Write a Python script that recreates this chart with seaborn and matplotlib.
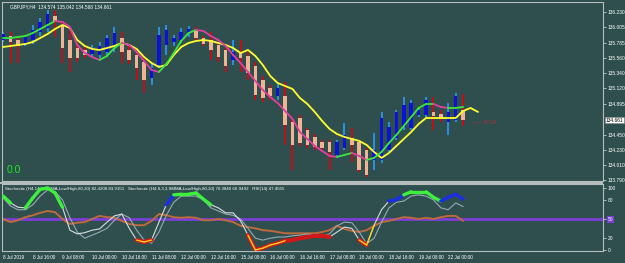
import numpy as np
import pandas as pd
import matplotlib
matplotlib.use("Agg")
import matplotlib.pyplot as plt
import matplotlib.transforms as mtrans
from matplotlib.patches import Rectangle
import seaborn as sns

# ---------------- data ----------------
symbol_header = "GBPJPY,H4  134.574 135.042 134.568 134.661"
osc_header = ("Stochastic (H4,14,3,3,EMA,Low/High,80,20) 82.4208 83.9151   "
              "Stochastic (H4,8,3,3,SMMA,Low/High,80,20) 70.3840 66.9492   RSI(14) 47.4555")
time_labels = ["8 Jul 2019", "8 Jul 16:00", "9 Jul 08:00", "10 Jul 00:00", "10 Jul 16:00",
               "11 Jul 08:00", "12 Jul 00:00", "12 Jul 16:00", "15 Jul 08:00", "16 Jul 00:00",
               "16 Jul 16:00", "17 Jul 08:00", "18 Jul 00:00", "18 Jul 16:00", "19 Jul 08:00",
               "22 Jul 00:00"]
price_ticks = [136.230, 136.005, 135.785, 135.560, 135.340, 135.120, 134.895,
               134.450, 134.230, 134.010, 133.790]
osc_ticks = [100, 80, 50, 20, 0]
last_price = 134.661
profit_text = "0.0"
timer_text = "\u2014\u2014 47:18"

opens = [135.823, 135.881, 135.823, 135.765, 135.823, 135.940, 135.998, 136.172, 136.041, 135.823,
         135.707, 135.678, 135.620, 135.605, 135.649, 135.707, 135.852, 135.678, 135.605, 135.504,
         135.271, 135.460, 135.751, 135.794, 135.823, 135.911, 135.969, 135.852, 135.823, 135.751,
         135.678, 135.533, 135.649, 135.591, 135.446, 135.242, 135.126, 135.010, 135.010, 134.632,
         134.690, 134.516, 134.415, 134.342, 134.342, 134.153, 134.255, 134.400, 134.342, 134.226,
         134.081, 134.081, 134.226, 134.400, 134.560, 134.545, 134.734, 134.734, 134.778, 134.749,
         134.632, 134.661, 134.807]
highs = [135.940, 135.940, 135.852, 135.896, 136.041, 136.143, 136.259, 136.259, 136.085, 135.969,
         135.794, 135.751, 135.751, 135.794, 135.896, 136.012, 135.940, 135.751, 135.678, 135.605,
         135.489, 136.012, 136.041, 135.896, 135.998, 136.027, 136.012, 135.881, 135.940, 135.794,
         135.707, 135.823, 135.823, 135.649, 135.504, 135.301, 135.170, 135.184, 135.213, 134.690,
         134.734, 134.545, 134.458, 134.371, 134.371, 134.371, 134.618, 134.545, 134.371, 134.255,
         134.473, 134.778, 134.632, 134.807, 134.995, 134.952, 134.836, 134.995, 134.995, 134.807,
         134.908, 135.054, 135.042]
lows = [135.794, 135.489, 135.489, 135.736, 135.765, 135.881, 135.940, 135.867, 135.489, 135.359,
        135.504, 135.562, 135.591, 135.562, 135.591, 135.649, 135.489, 135.475, 135.242, 135.054,
        135.170, 135.417, 135.605, 135.736, 135.780, 135.867, 135.809, 135.736, 135.533, 135.504,
        135.359, 135.460, 135.359, 135.242, 134.952, 134.923, 134.952, 134.952, 134.298, 133.935,
        134.284, 134.255, 134.226, 134.197, 133.935, 134.110, 134.226, 134.052, 133.906, 133.833,
        133.935, 134.037, 134.197, 134.371, 134.516, 134.516, 134.705, 134.690, 134.516, 134.632,
        134.444, 134.632, 134.568]
closes = [135.911, 135.794, 135.736, 135.867, 135.969, 136.085, 136.201, 136.085, 135.707, 135.562,
          135.562, 135.605, 135.707, 135.736, 135.852, 135.925, 135.649, 135.533, 135.417, 135.242,
          135.417, 135.896, 135.969, 135.852, 135.940, 135.983, 135.852, 135.765, 135.678, 135.576,
          135.446, 135.649, 135.562, 135.344, 135.024, 134.981, 135.010, 135.126, 134.589, 134.298,
          134.327, 134.298, 134.269, 134.255, 134.197, 134.342, 134.444, 134.298, 133.935, 133.862,
          134.226, 134.690, 134.560, 134.778, 134.879, 134.908, 134.807, 134.952, 134.720, 134.676,
          134.778, 135.010, 134.661]
slow_ma = [135.722, 135.736, 135.751, 135.765, 135.794, 135.852, 135.911, 135.983, 136.041, 135.998,
           135.823, 135.736, 135.693, 135.678, 135.707, 135.736, 135.780, 135.751, 135.693, 135.576,
           135.489, 135.431, 135.460, 135.605, 135.722, 135.780, 135.809, 135.823, 135.809, 135.780,
           135.751, 135.707, 135.634, 135.678, 135.591, 135.460, 135.301, 135.199, 135.155, 135.112,
           134.981, 134.894, 134.778, 134.647, 134.531, 134.458, 134.415, 134.386, 134.357, 134.298,
           134.197, 134.110, 134.182, 134.284, 134.386, 134.487, 134.603, 134.690, 134.690, 134.690,
           134.690, 134.690, 134.792, 134.836, 134.778]
fast_ma = [135.852, 135.852, 135.867, 135.881, 135.925, 135.983, 136.041, 136.099, 136.085, 136.012,
           135.751, 135.634, 135.576, 135.533, 135.591, 135.707, 135.780, 135.751, 135.649, 135.518,
           135.388, 135.359, 135.475, 135.634, 135.809, 135.925, 135.969, 135.954, 135.881, 135.823,
           135.736, 135.605, 135.489, 135.359, 135.228, 135.097, 134.995, 134.908, 134.792, 134.676,
           134.487, 134.386, 134.284, 134.211, 134.139, 134.124, 134.153, 134.182, 134.139, 134.081,
           134.110, 134.197, 134.327, 134.444, 134.574, 134.705, 134.836, 134.894, 134.894, 134.850,
           134.836, 134.836, 134.850]
stoch_main = [87, 76, 69, 68, 84, 98, 100, 92, 69, 32, 26, 28, 32, 34, 45, 55, 58, 35, 16, 13,
              16, 45, 73, 89, 90, 90, 92, 82, 73, 68, 60, 60, 47, 24, 0, 3, 8, 11, 15, 16,
              19, 21, 23, 23, 21, 29, 37, 35, 16, 8, 40, 65, 79, 81, 89, 94, 94, 94, 85, 79,
              85, 90, 82]
stoch_slow = [84, 71, 65, 65, 73, 87, 97, 94, 81, 52, 29, 19, 24, 29, 35, 48, 58, 52, 32, 16,
              11, 29, 56, 77, 87, 87, 87, 81, 68, 63, 58, 56, 50, 35, 19, 16, 19, 21, 21, 23,
              24, 26, 24, 23, 26, 39, 45, 44, 29, 10, 19, 45, 68, 77, 79, 87, 89, 87, 81, 68,
              65, 76, 70]
rsi = [50, 45, 48, 53, 56, 60, 63, 61, 50, 42, 44, 45, 50, 55, 53, 52, 47, 42, 40, 40,
       47, 58, 56, 53, 52, 53, 52, 48, 48, 50, 48, 45, 39, 37, 35, 32, 31, 29, 27, 27,
       27, 27, 27, 29, 32, 39, 34, 31, 29, 32, 39, 45, 47, 50, 53, 52, 50, 52, 50, 53,
       55, 55, 47]
blue_signal_bars = [22, 52, 53, 59, 60, 61]

# ---------------- style ----------------
BG = "#2f4f4f"
sns.set_style("dark", {"axes.facecolor": BG, "figure.facecolor": BG})
plt.rcParams["font.family"] = ["Liberation Sans", "DejaVu Sans"]
FS = 3.5

fig = plt.figure(figsize=(6.25, 2.63), dpi=100, facecolor=BG)
ax = fig.add_axes([2 / 625, 1 - 181 / 263, 601 / 625, 179 / 263])
ax2 = fig.add_axes([2 / 625, 1 - 251 / 263, 601 / 625, 67 / 263], sharex=ax)
XL = (-0.15, 80.85)

df = pd.DataFrame({"o": opens, "h": highs, "l": lows, "c": closes})
df["x"] = np.arange(len(df))
bull = df["c"] >= df["o"]

# candles
for is_bull, wick_c, body_c in [(True, "#2c8fe6", "#0a14d2"), (False, "#c01018", "#f2b392")]:
    sub = df[bull == is_bull]
    ax.vlines(sub["x"], sub["l"], sub["h"], color=wick_c, lw=1.4, zorder=2)
    bottom = np.minimum(sub["o"], sub["c"])
    height = np.maximum(np.abs(sub["c"] - sub["o"]), 0.012)
    ax.bar(sub["x"], height, bottom=bottom, width=0.48, color=body_c, lw=0, zorder=3)

# slow MA (yellow)
sns.lineplot(x=np.arange(len(slow_ma)), y=slow_ma, ax=ax, color="#ffff2e", lw=1.3, zorder=5)
# fast MA coloured by direction
fm = np.array(fast_ma)
for i in range(len(fm) - 1):
    col = "#3ce63c" if fm[i + 1] >= fm[i] else "#e0409e"
    ax.plot([i, i + 1], fm[i:i + 2], color=col, lw=1.3, zorder=6, solid_capstyle="round")

ax.set_xlim(*XL)
ax.set_ylim(133.775, 136.375)
ax.yaxis.tick_right()
ax.set_yticks(price_ticks)
ax.set_yticklabels([f"{v:.3f}" for v in price_ticks])
ax.tick_params(axis="y", colors="#c8d0d0", labelcolor="white", labelsize=FS,
               length=2.0, width=0.6, pad=1.2)
ax.tick_params(axis="x", bottom=False, labelbottom=False)
ax.set_xlabel("")
ax.set_ylabel("")
for s in ax.spines.values():
    s.set_color("#b4bcbc")
    s.set_linewidth(0.8)

ax.text(8 / 601, 1 - 5 / 179, symbol_header, transform=ax.transAxes, fontsize=3.4,
        color="white", ha="left", va="center")
ax.text(5 / 601, 6 / 179, profit_text, transform=ax.transAxes, fontsize=7.5,
        color="#1ee81e", ha="left", va="bottom")
ax.text(len(closes) + 0.2, last_price - 0.03, timer_text, fontsize=3.6, color="#b83030",
        ha="left", va="center", zorder=7)
tr = mtrans.blended_transform_factory(ax.transAxes, ax.transData)
ax.text(1.004, last_price, "134.661", transform=tr, fontsize=FS, color="black",
        ha="left", va="center", bbox=dict(facecolor="white", edgecolor="#888888", pad=0.6, lw=0.4),
        clip_on=False)

# ---------------- oscillator panel ----------------
xs = np.arange(len(stoch_main))
ax2.axhline(50, color="#7a3fd6", lw=2.0, zorder=1)
sns.lineplot(x=xs, y=rsi, ax=ax2, color="#bd6a3c", lw=1.4, zorder=2)
sns.lineplot(x=xs, y=stoch_slow, ax=ax2, color="#97a8b4", lw=0.8, zorder=3)
sns.lineplot(x=xs, y=stoch_main, ax=ax2, color="#d8dcdc", lw=0.8, zorder=4)
sm = np.array(stoch_main, dtype=float)
for i in range(len(sm) - 1):
    a, b = sm[i], sm[i + 1]
    if max(a, b) >= 80:
        col = "#1a2ee8" if i in blue_signal_bars else "#3cf03c"
        ax2.plot([i, i + 1], [a, b], color=col, lw=2.4, zorder=5, solid_capstyle="round")
    if max(a, b) <= 25:
        ax2.plot([i, i + 1], [a, b], color="#d01818", lw=3.0, zorder=5, solid_capstyle="round")
    if min(a, b) <= 13:
        ax2.plot([i, i + 1], [a, b], color="#f4d020", lw=1.0, zorder=6)

ax2.set_xlim(*XL)
ax2.set_ylim(-1.6, 106.5)
ax2.yaxis.tick_right()
ax2.set_yticks(osc_ticks)
ax2.set_yticklabels([str(v) for v in osc_ticks])
ax2.tick_params(axis="y", colors="#c8d0d0", labelcolor="white", labelsize=FS,
                length=2.0, width=0.6, pad=1.2)
for lbl in ax2.get_yticklabels():
    if lbl.get_text() == "50":
        lbl.set_bbox(dict(facecolor="#7a3fd6", edgecolor="none", pad=0.5))
ax2.set_xticks(list(range(0, 61, 4)))
ax2.set_xticklabels(time_labels, ha="left")
ax2.tick_params(axis="x", colors="#c8d0d0", labelcolor="white", labelsize=3.3,
                length=2.0, width=0.6, pad=1.0)
ax2.set_xlabel("")
ax2.set_ylabel("")
for s in ax2.spines.values():
    s.set_color("#b4bcbc")
    s.set_linewidth(0.8)
ax2.text(3 / 601, 1 - 5 / 67, osc_header, transform=ax2.transAxes, fontsize=3.15,
         color="white", ha="left", va="center")

# separator between panels
fig.patches.append(Rectangle((0, 1 - 183.5 / 263), 603 / 625, 2 / 263, transform=fig.transFigure,
                             facecolor="#b4bcbc", edgecolor="none", zorder=0))

fig.savefig("out.png", dpi=100, facecolor=BG)
